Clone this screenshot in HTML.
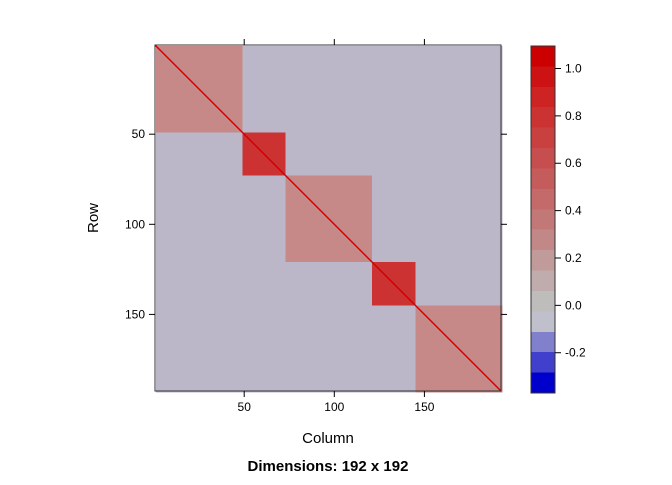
<!DOCTYPE html>
<html><head><meta charset="utf-8"><style>
body{margin:0;background:#fff;font-family:"Liberation Sans",sans-serif}
</style></head><body>
<svg id="chart" width="672" height="480" xmlns="http://www.w3.org/2000/svg" font-family="Liberation Sans, sans-serif">
<g id="cells" shape-rendering="crispEdges"></g>
<g id="legend"></g>
<g id="axes"></g>
<text x="98" y="218" font-size="15" text-anchor="middle" transform="rotate(-90 98 218)">Row</text>
<text x="328" y="443" font-size="15" text-anchor="middle">Column</text>
<text x="328" y="471" font-size="15" font-weight="bold" text-anchor="middle">Dimensions: 192 x 192</text>
</svg>
<script>
const blockStarts=[1,49,73,121,145];
const blockEnds=[48,72,120,144,192];
const blockValues=[0.3,0.78,0.3,0.8,0.3];
const offValues=[
[0,0.02,0.03,0.0,-0.01],
[0.02,0,0.03,0.01,0.0],
[0.03,0.03,0,0.0,0.01],
[0.0,0.01,0.0,0,-0.01],
[-0.01,0.0,0.01,-0.01,0]];
const tickValues=[50,100,150];
const legendColors=["#cc0000","#cc1212","#cd2323","#cb3232","#c94040","#c74e4e","#c55c5c","#c46a6a","#c37878","#c28888","#c19a9a","#c0acac","#bfbcbc","#c0c0cc","#8080cc","#4040cc","#0000cc"];
const legendTicks=["1.0","0.8","0.6","0.4","0.2","0.0","-0.2"];
const legendTickVals=[1.0,0.8,0.6,0.4,0.2,0.0,-0.2];
const N=192, X0=155, X1=501, Y0=45, Y1=391;
const sx=c=>X0+(c-0.5)*(X1-X0)/N;
const sy=r=>Y0+(r-0.5)*(Y1-Y0)/N;
const LMIN=-0.37,LMAX=1.095,LY0=46,LY1=393;
const ly=v=>LY1-(v-LMIN)/(LMAX-LMIN)*(LY1-LY0);
function color(v){
 if(v>=0.95)return "#cc0000";
 if(v>=0.7)return "#cc3232";
 if(v>=0.25)return "#c78888";
 if(v>=0.06)return "#c2aeb0";
 if(v>=-0.05)return "#bbb7c9";
 if(v>=-0.15)return "#8080cc";
 return "#4040cc";
}
const NS="http://www.w3.org/2000/svg";
function mk(tag,attrs,parent){const e=document.createElementNS(NS,tag);for(const k in attrs)e.setAttribute(k,attrs[k]);parent.appendChild(e);return e;}
const cells=document.getElementById('cells');
for(let i=0;i<blockStarts.length;i++)for(let j=0;j<blockStarts.length;j++){
 const v=i===j?blockValues[i]:offValues[i][j];
 const r=mk('rect',{x:sx(blockStarts[j]),y:sy(blockStarts[i]),width:sx(blockEnds[j]+1)-sx(blockStarts[j])+0.5,height:sy(blockEnds[i]+1)-sy(blockStarts[i])+0.5,fill:color(v)},cells);
 
 
}
const diag=mk('line',{x1:sx(0.5),y1:sy(0.5),x2:sx(N+0.5),y2:sy(N+0.5),stroke:"#cc0000","stroke-width":1.4,"shape-rendering":"auto"},cells);


const axes=document.getElementById('axes');
const frame=mk('rect',{x:X0,y:Y0,width:X1-X0,height:Y1-Y0,fill:"none",stroke:"#333","stroke-width":1},axes);


tickValues.forEach(t=>{
 const x=sx(t),y=sy(t);
 mk('line',{x1:x,y1:Y1,x2:x,y2:Y1+6,stroke:"#000"},axes);
 mk('line',{x1:x,y1:Y0,x2:x,y2:Y0-6,stroke:"#000"},axes);
 mk('line',{x1:X0,y1:y,x2:X0-6,y2:y,stroke:"#000"},axes);
 mk('line',{x1:X1,y1:y,x2:X1+6,y2:y,stroke:"#000"},axes);
 const tx=mk('text',{x:x,y:Y1+20,"font-size":12,"text-anchor":"middle"},axes);tx.textContent=t;
 
 
 const ty=mk('text',{x:X0-10,y:y+4,"font-size":12,"text-anchor":"end"},axes);ty.textContent=t;
 
 
});
const lg=document.getElementById('legend');
const n=legendColors.length,h=(LY1-LY0)/n;
legendColors.forEach((c,i)=>{
 const r=mk('rect',{x:531,y:LY0+i*h,width:24,height:h+0.5,fill:c,"shape-rendering":"crispEdges"},lg);
 
 
});
mk('rect',{x:531,y:LY0,width:24,height:LY1-LY0,fill:"none",stroke:"#333"},lg);
legendTickVals.forEach((v,i)=>{
 const y=ly(v);
 mk('line',{x1:555,y1:y,x2:561,y2:y,stroke:"#000"},lg);
 const t=mk('text',{x:565,y:y+4,"font-size":12},lg);t.textContent=legendTicks[i];
 
 
});
</script>
</body></html>
